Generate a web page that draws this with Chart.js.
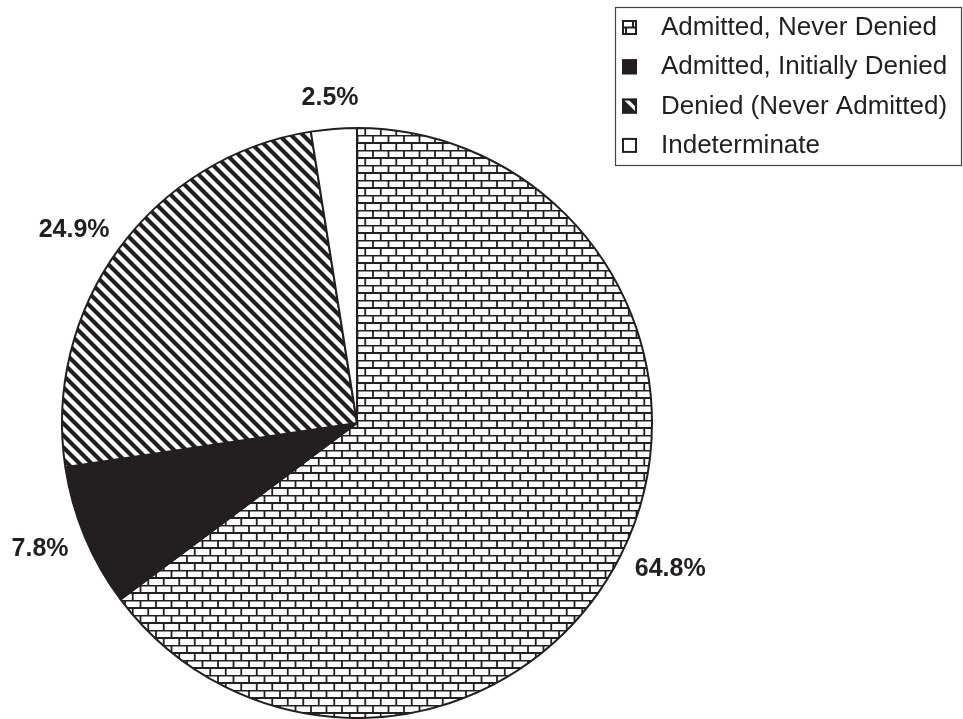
<!DOCTYPE html>
<html>
<head>
<meta charset="utf-8">
<script src="https://cdn.jsdelivr.net/npm/chart.js@4/dist/chart.umd.min.js"></script>
<style>
  html, body { margin: 0; padding: 0; background: #fff; }
  #wrap { width: 963px; height: 719px; position: relative; }
</style>
</head>
<body>
<div id="wrap"><canvas id="g_admision"></canvas></div>
<script>
// categorias y porcentajes
var categorias = ['Admitted, Never Denied', 'Admitted, Initially Denied', 'Denied (Never Admitted)', 'Indeterminate'];
var porcentajes = [64.8, 7.8, 24.9, 2.5];

var tinta = '#231f20';

// relleno de ladrillos
function patron_ladrillo(){
    var c = document.createElement('canvas');
    c.width = 31; c.height = 15;
    var ctx = c.getContext('2d');
    ctx.fillStyle = '#fff';
    ctx.fillRect(0, 0, 31, 15);
    ctx.strokeStyle = tinta;
    ctx.lineWidth = 1.8;
    ctx.beginPath();
    ctx.moveTo(0, 0.5); ctx.lineTo(31, 0.5);
    ctx.moveTo(0, 8); ctx.lineTo(31, 8);
    ctx.moveTo(1, 0.5); ctx.lineTo(1, 8);
    ctx.moveTo(16.5, 0.5); ctx.lineTo(16.5, 8);
    ctx.moveTo(8.75, 8); ctx.lineTo(8.75, 15);
    ctx.moveTo(24.25, 8); ctx.lineTo(24.25, 15);
    ctx.stroke();
    return ctx.createPattern(c, 'repeat');
}

// rayado diagonal
function patron_rayas(){
    var n = 12;
    var c = document.createElement('canvas');
    c.width = n; c.height = n;
    var ctx = c.getContext('2d');
    ctx.fillStyle = '#fff';
    ctx.fillRect(0, 0, n, n);
    ctx.strokeStyle = tinta;
    ctx.lineWidth = 4.2;
    ctx.beginPath();
    ctx.moveTo(-2, -2); ctx.lineTo(n + 2, n + 2);
    ctx.moveTo(-n - 2, -2); ctx.lineTo(2, n + 2);
    ctx.moveTo(n - 2, -2); ctx.lineTo(2 * n + 2, n + 2);
    ctx.stroke();
    return ctx.createPattern(c, 'repeat');
}

var rellenos = [patron_ladrillo(), tinta, patron_rayas(), '#ffffff'];

// etiquetas de porcentaje fuera del pastel
var etiquetas = {
    id: 'etiquetas',
    afterDatasetsDraw: function(chart){
        var ctx = chart.ctx;
        var meta = chart.getDatasetMeta(0);
        ctx.save();
        ctx.font = 'bold 25px "Liberation Sans", Arial, sans-serif';
        ctx.fillStyle = tinta;
        ctx.textAlign = 'center';
        ctx.textBaseline = 'middle';
        meta.data.forEach(function(arco, i){
            var p = arco.getProps(['x', 'y', 'startAngle', 'endAngle', 'outerRadius'], true);
            var a = (p.startAngle + p.endAngle) / 2;
            var dx = Math.cos(a), dy = Math.sin(a);
            var texto = porcentajes[i].toFixed(1) + '%';
            var w = ctx.measureText(texto).width / 2;
            var h = 11;
            var r = p.outerRadius + 20;
            ctx.fillText(texto, p.x + dx * (r + w), p.y + dy * (r + h));
        });
        ctx.restore();
    }
};

// leyenda con recuadro en la esquina
function icono(ctx, i, x, y, s){
    ctx.save();
    ctx.lineWidth = 2;
    ctx.strokeStyle = tinta;
    if (i === 0){
        ctx.fillStyle = '#fff';
        ctx.fillRect(x, y, s, s);
        ctx.beginPath();
        ctx.moveTo(x, y + s / 2); ctx.lineTo(x + s, y + s / 2);
        ctx.moveTo(x + s - 4, y); ctx.lineTo(x + s - 4, y + s / 2);
        ctx.moveTo(x + 4, y + s / 2); ctx.lineTo(x + 4, y + s);
        ctx.stroke();
    } else if (i === 1){
        ctx.fillStyle = tinta;
        ctx.fillRect(x, y, s, s);
    } else if (i === 2){
        ctx.fillStyle = tinta;
        ctx.fillRect(x, y, s, s);
        ctx.save();
        ctx.beginPath();
        ctx.rect(x, y, s, s);
        ctx.clip();
        ctx.strokeStyle = '#fff';
        ctx.lineWidth = 3.5;
        ctx.beginPath();
        ctx.moveTo(x + 3, y); ctx.lineTo(x + s + 3, y + s);
        ctx.stroke();
        ctx.restore();
    } else {
        ctx.fillStyle = '#fff';
        ctx.fillRect(x, y, s, s);
    }
    ctx.strokeRect(x + 1, y + 1, s - 2, s - 2);
    ctx.restore();
}

var leyenda = {
    id: 'leyenda',
    afterDraw: function(chart){
        var ctx = chart.ctx;
        ctx.save();
        ctx.strokeStyle = '#444';
        ctx.lineWidth = 1.2;
        ctx.strokeRect(615.5, 7.5, 346, 158);
        ctx.font = '26px "Liberation Sans", Arial, sans-serif';
        ctx.fillStyle = tinta;
        ctx.textBaseline = 'middle';
        ctx.textAlign = 'left';
        categorias.forEach(function(nombre, i){
            var y = 27 + i * 39.3;
            icono(ctx, i, 622, y - 7, 15);
            ctx.fillStyle = tinta;
            ctx.fillText(nombre, 661, y + 1);
        });
        ctx.restore();
    }
};

new Chart(document.getElementById('g_admision'), {
    type: 'pie',
    data: {
        labels: categorias,
        datasets: [{
            label: 'Porcentaje',
            data: porcentajes,
            backgroundColor: rellenos,
            borderColor: tinta,
            borderWidth: 2
        }]
    },
    options: {
        responsive: true,
        maintainAspectRatio: false,
        animation: false,
        events: [],
        layout: { padding: { left: 61, right: 310, top: 127, bottom: 0 } },
        plugins: {
            legend: { display: false },
            tooltip: { enabled: false },
            title: { display: false }
        }
    },
    plugins: [etiquetas, leyenda]
});
</script>
</body>
</html>
